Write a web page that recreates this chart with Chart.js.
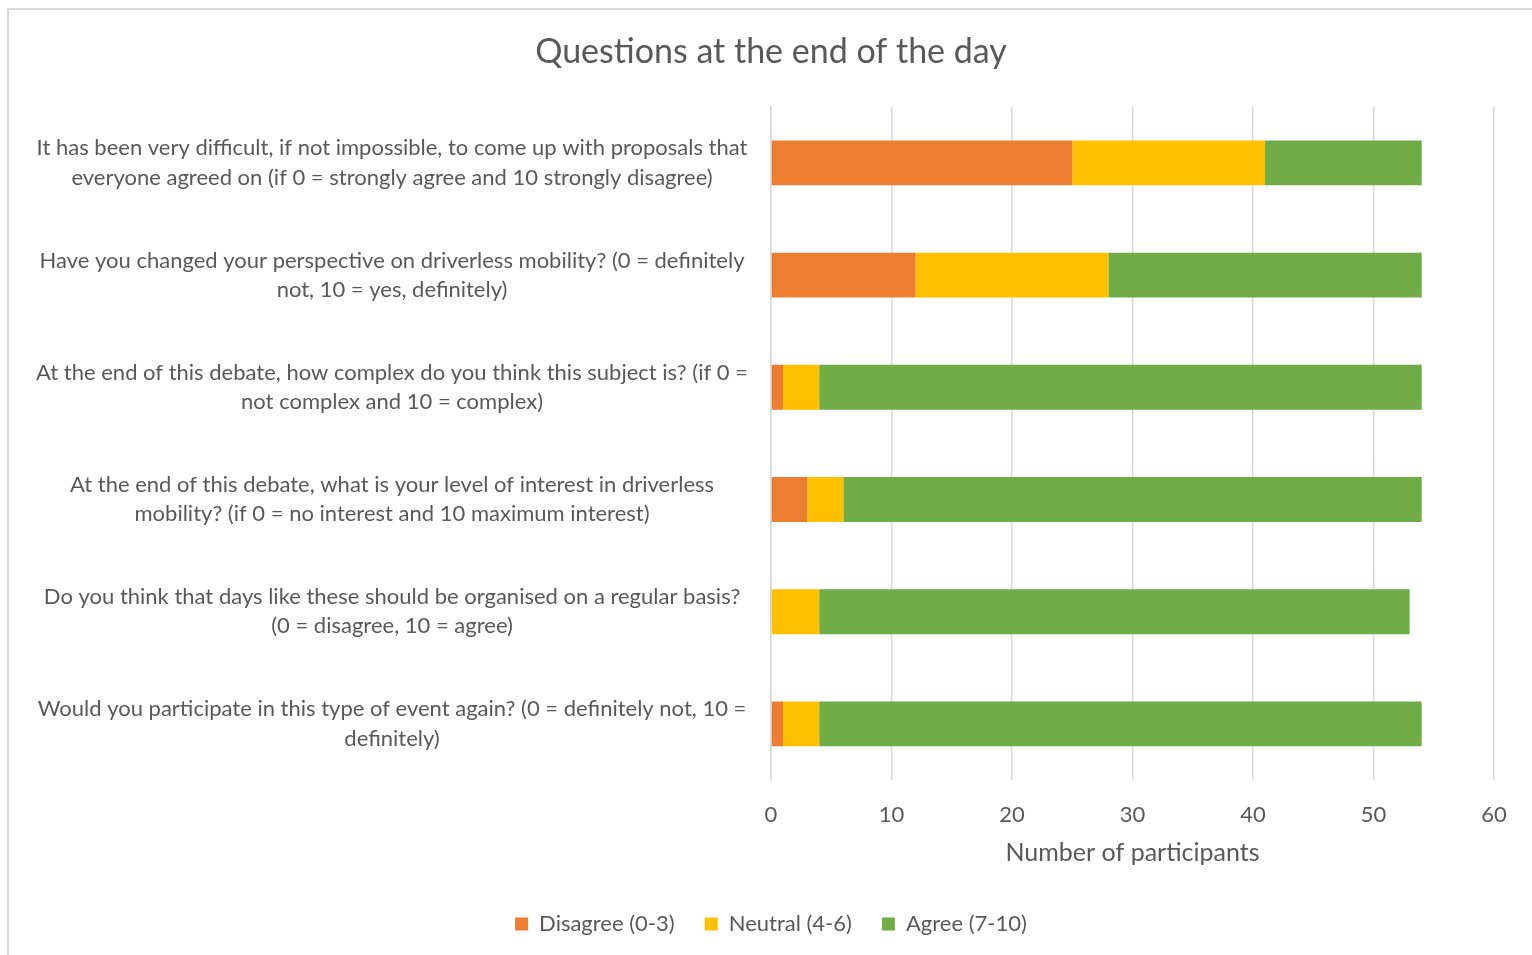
<!DOCTYPE html>
<html lang="en">
<head>
    <meta charset="UTF-8">
    <title>Questions at the end of the day</title>
    <script src="https://cdn.jsdelivr.net/npm/chart.js@4.4.3/dist/chart.umd.min.js"></script>
    <style>
        html, body { margin: 0; padding: 0; overflow: hidden; background: #fff; }
        #wrap { position: absolute; left: 0; top: 0; width: 1532px; height: 955px; }
        #frame { position: absolute; left: 7px; top: 8px; width: 1600px; height: 1000px;
                 border: 2px solid #d9d9d9; pointer-events: none; }
    </style>
</head>
<body>
    <div id="wrap"><canvas id="chart"></canvas></div>
    <div id="frame"></div>
    <script>
        const questions = [
            ['It has been very difficult, if not impossible, to come up with proposals that', 'everyone agreed on (if 0 = strongly agree and 10 strongly disagree)'],
            ['Have you changed your perspective on driverless mobility? (0 = definitely', 'not, 10 = yes, definitely)'],
            ['At the end of this debate, how complex do you think this subject is? (if 0 =', 'not complex and 10 = complex)'],
            ['At the end of this debate, what is your level of interest in driverless', 'mobility? (if 0 = no interest and 10 maximum interest)'],
            ['Do you think that days like these should be organised on a regular basis?', '(0 = disagree, 10 = agree)'],
            ['Would you participate in this type of event again? (0 = definitely not, 10 =', 'definitely)']
        ];
        const disagree = [25, 12, 1, 3, 0, 1];
        const neutral = [16, 16, 3, 3, 4, 3];
        const agree = [13, 26, 50, 48, 49, 50];

        const textColor = '#595959';
        const fontFamily = 'Lato, "Open Sans", sans-serif';

        const ctx = document.getElementById('chart').getContext('2d');

        new Chart(ctx, {
            type: 'bar',
            data: {
                labels: questions,
                datasets: [
                    { label: 'Disagree (0-3)', data: disagree, backgroundColor: '#ED7D31' },
                    { label: 'Neutral (4-6)', data: neutral, backgroundColor: '#FFC000' },
                    { label: 'Agree (7-10)', data: agree, backgroundColor: '#70AD47' }
                ]
            },
            options: {
                indexAxis: 'y',
                responsive: true,
                maintainAspectRatio: false,
                animation: false,
                barPercentage: 0.4,
                categoryPercentage: 1,
                layout: { padding: { left: 48, right: 38, top: 0, bottom: 10 } },
                scales: {
                    x: {
                        stacked: true,
                        min: 0,
                        max: 60,
                        ticks: { stepSize: 10, color: textColor, padding: 22, font: { family: fontFamily, size: 22 } },
                        grid: { color: '#d9d9d9', lineWidth: 1.5, drawTicks: false },
                        border: { display: false },
                        title: {
                            display: true,
                            text: 'Number of participants',
                            color: textColor,
                            font: { family: fontFamily, size: 25 },
                            padding: { top: 0, bottom: 15 }
                        },
                        afterFit: (scale) => { scale.height = 103; }
                    },
                    y: {
                        stacked: true,
                        ticks: {
                            color: textColor,
                            padding: 23,
                            crossAlign: 'center',
                            font: { family: fontFamily, size: 22, lineHeight: 1.32 }
                        },
                        grid: { display: false, drawTicks: false },
                        border: { display: true, color: '#d9d9d9', width: 1.5 },
                        afterFit: (scale) => {
                            scale.width = 723;
                            // long labels run past the left edge of the axis box, don't clip them
                            scale._computeLabelArea = () => undefined;
                        }
                    }
                },
                plugins: {
                    title: {
                        display: true,
                        text: 'Questions at the end of the day',
                        color: textColor,
                        font: { family: fontFamily, size: 34, weight: 'normal' },
                        padding: { top: 32, bottom: 34 }
                    },
                    legend: {
                        position: 'bottom',
                        labels: {
                            color: textColor,
                            boxWidth: 13,
                            boxHeight: 13,
                            padding: 30,
                            font: { family: fontFamily, size: 22 }
                        }
                    },
                    tooltip: { enabled: false }
                }
            }
        });
    </script>
</body>
</html>
